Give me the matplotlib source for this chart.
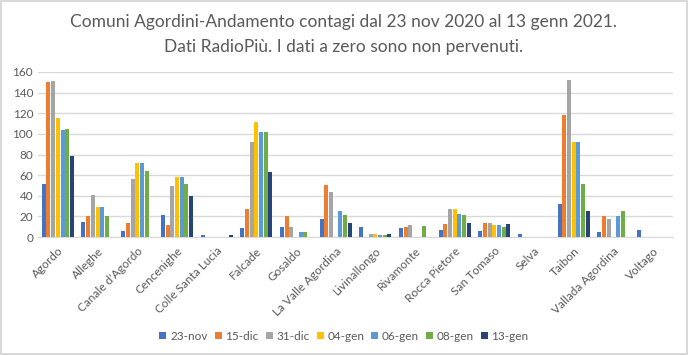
import numpy as np
import matplotlib.pyplot as plt

plt.rcParams['font.family'] = ['Lato', 'DejaVu Sans']

# comuni e date
comuni = ["Agordo", "Alleghe", "Canale d'Agordo", "Cencenighe", "Colle Santa Lucia",
          "Falcade", "Gosaldo", "La Valle Agordina", "Livinallongo", "Rivamonte",
          "Rocca Pietore", "San Tomaso", "Selva", "Taibon", "Vallada Agordina", "Voltago"]
date = ["23-nov", "15-dic", "31-dic", "04-gen", "06-gen", "08-gen", "13-gen"]

# contagi per data (0 = non pervenuto)
nov23 = [51, 15, 6, 21, 2, 9, 10, 17, 10, 9, 7, 6, 3, 32, 5, 7]
dic15 = [150, 20, 14, 12, 0, 27, 20, 50, 0, 10, 13, 14, 0, 118, 20, 0]
dic31 = [151, 41, 56, 49, 0, 92, 10, 44, 3, 12, 27, 14, 0, 152, 17, 0]
gen04 = [115, 29, 72, 58, 0, 112, 0, 0, 3, 0, 27, 12, 0, 92, 0, 0]
gen06 = [104, 29, 72, 58, 0, 102, 5, 25, 2, 0, 22, 12, 0, 92, 20, 0]
gen08 = [105, 20, 64, 51, 0, 102, 5, 21, 2, 11, 21, 10, 0, 51, 25, 0]
gen13 = [79, 0, 0, 40, 2, 63, 0, 14, 3, 0, 14, 13, 0, 25, 0, 0]

serie = [nov23, dic15, dic31, gen04, gen06, gen08, gen13]
colori = ["#4472C4", "#ED7D31", "#A5A5A5", "#FFC000", "#5B9BD5", "#70AD47", "#264478"]

fig = plt.figure(figsize=(6.88, 3.55), dpi=100)
fig.patch.set_edgecolor("#D9D9D9")
fig.patch.set_linewidth(1.5)
ax = fig.add_axes([38/688, 1-237/355, 635/688, 165/355])

x = np.arange(len(comuni))
w = 0.118
for i, (vals, col) in enumerate(zip(serie, colori)):
    ax.bar(x + (i - 3) * w, vals, width=w*0.85, color=col, label=date[i], zorder=3)

ax.set_xlim(-0.5, len(comuni) - 0.5)
ax.set_ylim(0, 160)
ax.set_yticks(range(0, 161, 20))
ax.yaxis.grid(True, color="#D9D9D9", linewidth=1, zorder=0)
for s in ["top", "right", "left"]:
    ax.spines[s].set_visible(False)
ax.spines["bottom"].set_color("#D9D9D9")
ax.tick_params(axis="both", length=0, labelsize=8.5, colors="#595959")
ax.tick_params(axis="x", pad=6)
ax.set_xticks(x)
ax.set_xticklabels(comuni, rotation=45, ha="right", rotation_mode="anchor")

fig.text(0.5, 1-22/355, "Comuni Agordini-Andamento contagi dal 23 nov 2020 al 13 genn 2021.",
         ha="center", va="center", fontsize=12.5, color="#595959")
fig.text(0.5, 1-47/355, "Dati RadioPiù. I dati a zero sono non pervenuti.",
         ha="center", va="center", fontsize=12.5, color="#595959")

leg = fig.legend(loc="center", bbox_to_anchor=(0.5, 1-336/355), ncol=7, frameon=False,
                 fontsize=8.5, handlelength=0.6, handleheight=0.6, handletextpad=0.3,
                 columnspacing=0.6)
for t in leg.get_texts():
    t.set_color("#595959")

fig.savefig("out.png", dpi=100)
